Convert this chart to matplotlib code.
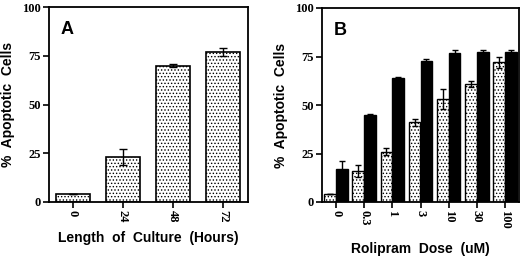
import matplotlib
matplotlib.use("Agg")
import matplotlib.pyplot as plt
import numpy as np

# Panel A data
culture_hours = ["0", "24", "48", "72"]
culture_vals = [4, 23, 70, 77]
culture_err = [0, 4, 1, 2]

# Panel B data
doses = ["0", "0.3", "1", "3", "10", "30", "100"]
dotted_vals = [4, 16, 26, 41, 53, 61, 72]
dotted_err = [0, 3, 2, 2, 5, 1.5, 3]
black_vals = [17, 45, 64, 72.5, 77, 77.5, 77.5]
black_err = [4, 0.5, 0.5, 1, 1.5, 1, 1]

yticks = [0, 25, 50, 75, 100]
ytick_labels = ["0", "25", "50", "75", "100"]

plt.rcParams['hatch.linewidth'] = 0.6
W, H = 520, 257
fig = plt.figure(figsize=(W/100, H/100), dpi=100)

tickfont = dict(family="Liberation Serif", weight="bold", size=9)
labfont = dict(family="Liberation Sans", weight="bold", size=10)

def style_axes(ax):
    for s in ax.spines.values():
        s.set_linewidth(1.3)
    ax.set_ylim(0, 100)
    ax.set_yticks(yticks)
    ax.set_yticklabels(ytick_labels, fontdict=tickfont)
    ax.tick_params(axis='both', direction='out', length=4, width=1.2, pad=2)
    ax.set_ylabel("%  Apoptotic  Cells", fontdict=labfont, labelpad=5)

axA = fig.add_axes([49/W, 1-202/H, 199/W, 195/H])
x = np.arange(len(culture_hours))
axA.bar(x, culture_vals, width=0.68, color="white", edgecolor="black",
        linewidth=1.2, hatch=".....")
axA.errorbar(x, culture_vals, yerr=culture_err, fmt='none', ecolor='black',
             elinewidth=1.0, capsize=3, capthick=1.0)
axA.set_xlim(-0.48, 3.5)
style_axes(axA)
axA.set_xticks(x)
axA.set_xticklabels(culture_hours, rotation=-90, fontdict=tickfont)
axA.set_xlabel("Length  of  Culture  (Hours)", fontdict=labfont, labelpad=6)
axA.text(0.06, 0.93, "A", transform=axA.transAxes, fontsize=13,
         family="Liberation Sans", weight="bold", va="top")

axB = fig.add_axes([322/W, 1-202/H, 197/W, 194/H])
xb = np.arange(len(doses))
bw = 0.42
axB.bar(xb - bw/2, dotted_vals, width=bw, color="white", edgecolor="black",
        linewidth=1.0, hatch=".....")
axB.bar(xb + bw/2, black_vals, width=bw, color="black", edgecolor="black",
        linewidth=1.0)
axB.errorbar(xb - bw/2, dotted_vals, yerr=dotted_err, fmt='none', ecolor='black',
             elinewidth=1.0, capsize=2.5, capthick=1.0)
axB.errorbar(xb + bw/2, black_vals, yerr=black_err, fmt='none', ecolor='black',
             elinewidth=1.0, capsize=2.5, capthick=1.0)
axB.set_xlim(-0.5, 6.5)
style_axes(axB)
axB.set_xticks(xb)
axB.set_xticklabels(doses, rotation=-90, fontdict=tickfont)
axB.set_xlabel("Rolipram  Dose  (uM)", fontdict=labfont, labelpad=9)
axB.text(0.06, 0.93, "B", transform=axB.transAxes, fontsize=13,
         family="Liberation Sans", weight="bold", va="top")

fig.savefig("out.png", dpi=100)
